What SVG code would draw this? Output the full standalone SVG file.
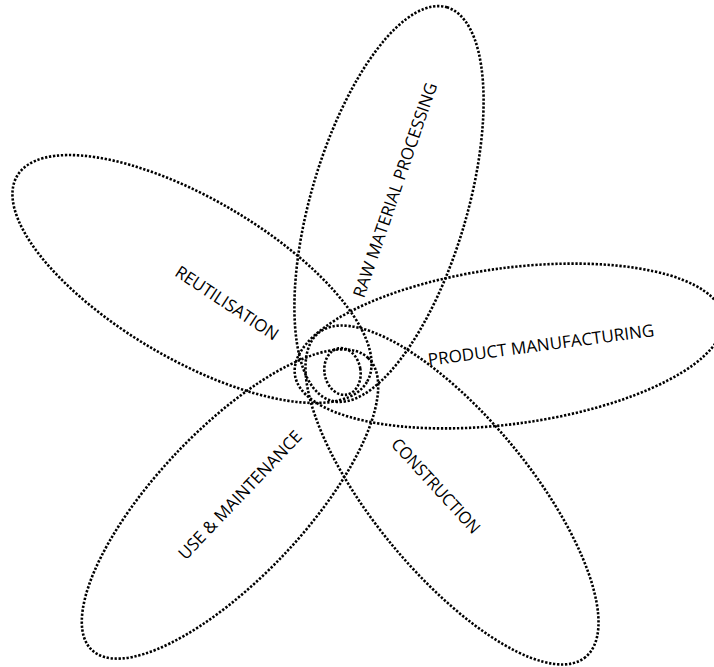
<svg xmlns="http://www.w3.org/2000/svg" width="714" height="667" viewBox="0 0 714 667">
<style>
.petal{fill:none;stroke:#000;stroke-width:2.6;stroke-dasharray:2.3 1.7}
.lbl{font-family:"Open Sans","Liberation Sans",sans-serif;font-size:17px;fill:#000;text-anchor:middle}
</style>
<rect width="714" height="667" fill="#fff"/>
<g id="raw-material-processing">
<ellipse class="petal" cx="0" cy="0" rx="205" ry="78" transform="translate(389,204) rotate(-73.6)"/>
<text class="lbl" transform="translate(395,190) rotate(-71)" y="6" textLength="226" lengthAdjust="spacingAndGlyphs">RAW MATERIAL PROCESSING</text>
</g>
<g id="product-manufacturing">
<ellipse class="petal" cx="0" cy="0" rx="216" ry="78" transform="translate(509,346) rotate(-7.6)"/>
<text class="lbl" transform="translate(541,345) rotate(-7.5)" y="6" textLength="228" lengthAdjust="spacingAndGlyphs">PRODUCT MANUFACTURING</text>
</g>
<g id="construction">
<ellipse class="petal" cx="0" cy="0" rx="210" ry="78" transform="translate(452,495) rotate(50.5)"/>
<text class="lbl" transform="translate(436,486) rotate(47.5)" y="6" textLength="122" lengthAdjust="spacingAndGlyphs">CONSTRUCTION</text>
</g>
<g id="use-maintenance">
<ellipse class="petal" cx="0" cy="0" rx="201" ry="74" transform="translate(230,504) rotate(-46.6)"/>
<text class="lbl" transform="translate(240,495) rotate(-46.4)" y="6" textLength="170" lengthAdjust="spacingAndGlyphs">USE &amp; MAINTENANCE</text>
</g>
<g id="reutilisation">
<ellipse class="petal" cx="0" cy="0" rx="203" ry="80" transform="translate(192,279) rotate(30.5)"/>
<text class="lbl" transform="translate(227,303) rotate(33.5)" y="6" textLength="120" lengthAdjust="spacingAndGlyphs">REUTILISATION</text>
</g>
<g id="centre">
<ellipse class="petal" cx="0" cy="0" rx="18" ry="23.5" transform="translate(342.5,371.5) rotate(-10)"/>
</g>
<g id="connectors"/>
</svg>
